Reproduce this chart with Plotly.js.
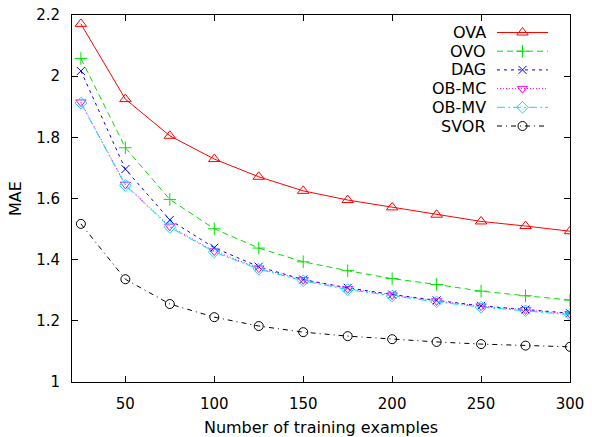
<!DOCTYPE html>
<html>
<head>
<meta charset="utf-8">
<script src="https://cdn.plot.ly/plotly-3.0.1.min.js"></script>
<style>html,body{margin:0;padding:0;background:#fff;}#chart{width:592px;height:437px;}</style>
</head>
<body>
<div id="chart"></div>
<script>
// ---- data ----
const trainSizes = [25, 50, 75, 100, 125, 150, 175, 200, 225, 250, 275, 300];
const seriesNames = ["OVA", "OVO", "DAG", "OB-MC", "OB-MV", "SVOR"];
const maeOVA  = [2.171, 1.925, 1.805, 1.729, 1.671, 1.625, 1.595, 1.571, 1.547, 1.525, 1.510, 1.493];
const maeOVO  = [2.058, 1.766, 1.597, 1.501, 1.438, 1.393, 1.364, 1.338, 1.319, 1.297, 1.282, 1.268];
const maeDAG  = [2.017, 1.696, 1.530, 1.439, 1.377, 1.335, 1.308, 1.286, 1.267, 1.249, 1.237, 1.225];
const maeOBMC = [1.915, 1.646, 1.509, 1.428, 1.372, 1.334, 1.305, 1.284, 1.265, 1.248, 1.236, 1.223];
const maeOBMV = [1.912, 1.643, 1.506, 1.425, 1.369, 1.331, 1.302, 1.281, 1.262, 1.245, 1.233, 1.220];
const maeSVOR = [1.517, 1.336, 1.255, 1.212, 1.183, 1.163, 1.150, 1.140, 1.131, 1.124, 1.119, 1.115];
const xTickVals = [50, 100, 150, 200, 250, 300];
const yTickVals = [1, 1.2, 1.4, 1.6, 1.8, 2, 2.2];
const yTickText = ["1", "1.2", "1.4", "1.6", "1.8", "2", "2.2"];

const styles = [
  {color: "#ff0000", dash: "solid", symbol: "triangle-up-open", size: 10},
  {color: "#00e000", dash: "6px,4px", symbol: "cross-thin-open", size: 9},
  {color: "#0000ff", dash: "3px,4px", symbol: "x-thin-open", size: 8},
  {color: "#ff00ff", dash: "1px,2px", symbol: "triangle-down-open", size: 9},
  {color: "#00e0ff", dash: "8px,3px,2px,3px", symbol: "diamond-open", size: 9},
  {color: "#000000", dash: "5px,4px,1px,4px", symbol: "circle-open", size: 9}
];
const allY = [maeOVA, maeOVO, maeDAG, maeOBMC, maeOBMV, maeSVOR];

const FONT = "DejaVu Sans, Verdana, sans-serif";
const traces = [];
allY.forEach((ys, i) => {
  const s = styles[i];
  traces.push({
    x: trainSizes, y: ys, name: seriesNames[i], type: "scatter", mode: "lines+markers",
    line: {color: s.color, width: 1, dash: s.dash},
    marker: {symbol: s.symbol, size: s.size, color: s.color, line: {color: s.color, width: 1}},
    showlegend: false, hoverinfo: "skip"
  });
});

// custom gnuplot-style legend on a pixel overlay axis
const legendRows = [32.5, 51.2, 69.9, 88.6, 107.3, 126];
const annotations = [];
seriesNames.forEach((nm, i) => {
  const s = styles[i];
  const yy = legendRows[i];
  traces.push({
    x: [497, 548], y: [yy, yy], xaxis: "x2", yaxis: "y2", mode: "lines",
    line: {color: s.color, width: 1, dash: s.dash}, showlegend: false, hoverinfo: "skip"
  });
  traces.push({
    x: [522.5], y: [yy], xaxis: "x2", yaxis: "y2", mode: "markers",
    marker: {symbol: s.symbol, size: s.size, color: s.color, line: {color: s.color, width: 1}},
    showlegend: false, hoverinfo: "skip"
  });
  annotations.push({
    x: 487, y: yy, xref: "x2", yref: "y2", text: nm, showarrow: false, borderpad: 0,
    xanchor: "right", yanchor: "middle", font: {family: FONT, size: 16, color: "#000"}
  });
});

const layout = {
  width: 592, height: 437,
  margin: {l: 72, r: 22, t: 15, b: 55},
  paper_bgcolor: "#fff", plot_bgcolor: "#fff",
  font: {family: FONT, size: 15, color: "#000"},
  showlegend: false,
  xaxis: {
    range: [20, 300], tickvals: xTickVals, ticks: "inside", ticklen: 6, tickcolor: "#000",
    showline: true, linecolor: "#000", linewidth: 1, mirror: "ticks", showgrid: false, zeroline: false,
    tickfont: {family: FONT, size: 15}, ticklabelstandoff: 8,
    title: {text: "Number of training examples", font: {family: FONT, size: 16}, standoff: 10}
  },
  yaxis: {
    range: [1, 2.2], tickvals: yTickVals, ticktext: yTickText, ticks: "inside", ticklen: 6, tickcolor: "#000",
    showline: true, linecolor: "#000", linewidth: 1, mirror: "ticks", showgrid: false, zeroline: false,
    tickfont: {family: FONT, size: 15}, ticklabelstandoff: 8,
    title: {text: "MAE", font: {family: FONT, size: 16}, standoff: 10}
  },
  xaxis2: {overlaying: "x", range: [72, 570], visible: false, fixedrange: true},
  yaxis2: {overlaying: "y", range: [382, 15], visible: false, fixedrange: true},
  annotations: annotations
};

Plotly.newPlot("chart", traces, layout, {displayModeBar: false, staticPlot: true});
</script>
</body>
</html>
